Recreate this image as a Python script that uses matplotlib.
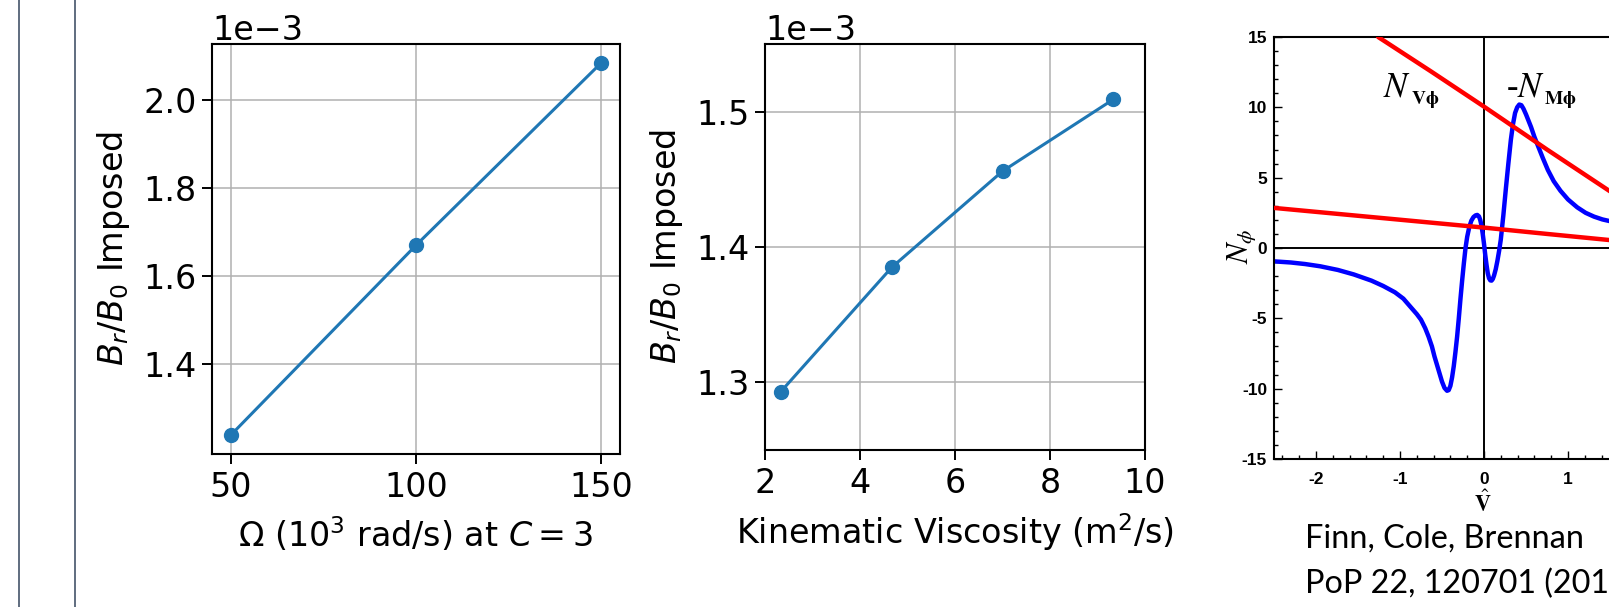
import matplotlib
matplotlib.use("Agg")
import matplotlib.pyplot as plt
from matplotlib.lines import Line2D
from matplotlib.ticker import MultipleLocator, FixedLocator, FuncFormatter

# left panel: imposed field vs rotation rate
omega = [50, 100, 150]
br_omega = [1.239e-3, 1.670e-3, 2.084e-3]

# middle panel: imposed field vs viscosity
visc = [2.33, 4.67, 7.0, 9.33]
br_visc = [1.293e-3, 1.385e-3, 1.456e-3, 1.509e-3]

nv_hi_x = [-1.26, -0.63, 0.0, 0.75, 1.52]
nv_hi_y = [15.0, 12.55, 10.05, 7.0, 3.95]
nv_lo_x = [-2.5, -1.25, 0.0, 0.75, 1.52]
nv_lo_y = [2.85, 2.15, 1.45, 1.0, 0.55]
nm_x = [-2.5, -2.3, -2.13, -1.95, -1.74, -1.55, -1.34, -1.2, -1.06, -0.96,
        -0.87, -0.8, -0.75, -0.7, -0.66, -0.62, -0.59, -0.56, -0.53, -0.5,
        -0.47, -0.44, -0.42, -0.4, -0.38, -0.36, -0.34, -0.32, -0.3, -0.28,
        -0.26, -0.24, -0.22, -0.2, -0.175, -0.15, -0.125, -0.1, -0.08, -0.06,
        -0.045, -0.03, -0.015, 0.0, 0.015, 0.03, 0.045, 0.06, 0.075, 0.09,
        0.105, 0.12, 0.14, 0.16, 0.18, 0.2, 0.23, 0.26, 0.29, 0.32,
        0.345, 0.37, 0.395, 0.42, 0.445, 0.47, 0.5, 0.53, 0.56, 0.6,
        0.64, 0.7, 0.76, 0.83, 0.91, 1.0, 1.11, 1.21, 1.31, 1.41, 1.52]
nm_y = [-0.95, -1.03, -1.14, -1.3, -1.56, -1.88, -2.32, -2.7, -3.15, -3.6,
        -4.22, -4.7, -5.1, -5.7, -6.3, -7.0, -7.7, -8.3, -8.9, -9.5,
        -9.95, -10.15, -10.1, -9.8, -9.2, -8.4, -7.4, -6.3, -5.0, -3.6,
        -2.3, -1.1, 0.0, 0.8, 1.5, 1.95, 2.2, 2.32, 2.35, 2.25,
        2.0, 1.6, 1.0, 0.3, -0.5, -1.2, -1.8, -2.15, -2.3, -2.32,
        -2.2, -1.95, -1.5, -0.9, -0.2, 0.6, 2.3, 4.2, 6.0, 7.7,
        8.8, 9.6, 10.0, 10.2, 10.15, 9.9, 9.5, 9.05, 8.6, 7.9,
        7.3, 6.4, 5.55, 4.75, 4.07, 3.45, 2.89, 2.5, 2.23, 2.03, 1.88]
vhat_ticks = [-2, -1, 0, 1]

plt.rcParams.update({
    "font.size": 24,
    "axes.linewidth": 1.5,
    "xtick.major.size": 7,
    "ytick.major.size": 7,
    "xtick.major.width": 1.4,
    "ytick.major.width": 1.4,
    "xtick.major.pad": 5,
    "ytick.major.pad": 4,
})

fig = plt.figure(figsize=(16.09, 6.07), dpi=100)
W, H = 1609.0, 607.0

def box(l, t, r, b):
    return [l / W, 1 - b / H, (r - l) / W, (b - t) / H]

blue = "#1f77b4"

# --- left panel
ax1 = fig.add_axes(box(212, 44, 620, 454))
ax1.plot(omega, br_omega, "-o", color=blue, lw=2.2, ms=10)
ax1.set_xticks([50, 100, 150])
ax1.set_yticks([1.4e-3, 1.6e-3, 1.8e-3, 2.0e-3])
ax1.ticklabel_format(axis="y", style="sci", scilimits=(0, 0))
ax1.grid(True, color="#b0b0b0", lw=1.1)
ax1.set_xlabel(r"$\Omega$ ($10^3$ rad/s) at $C = 3$", labelpad=8)
ax1.set_ylabel(r"$B_r/B_0$ Imposed", labelpad=8)

# --- middle panel
ax2 = fig.add_axes(box(765, 44, 1145, 450))
ax2.plot(visc, br_visc, "-o", color=blue, lw=2.2, ms=10)
ax2.set_xlim(2, 10)
ax2.set_ylim(1.25e-3, 1.55e-3)
ax2.set_xticks([2, 4, 6, 8, 10])
ax2.set_yticks([1.3e-3, 1.4e-3, 1.5e-3])
ax2.ticklabel_format(axis="y", style="sci", scilimits=(0, 0))
ax2.grid(True, color="#b0b0b0", lw=1.1)
ax2.set_xlabel(r"Kinematic Viscosity (m$^2$/s)", labelpad=8)
ax2.set_ylabel(r"$B_r/B_0$ Imposed", labelpad=8)

# --- right panel (reproduced paper figure, cut by the slide edge)
ax3 = fig.add_axes(box(1274, 37, 1694, 459))
ax3.axhline(0, color="k", lw=1.4, zorder=1)
ax3.axvline(0, color="k", lw=1.4, zorder=1)
ax3.plot(nv_hi_x, nv_hi_y, color="#ff0000", lw=3.2, solid_capstyle="round", zorder=3)
ax3.plot(nv_lo_x, nv_lo_y, color="#ff0000", lw=3.2, solid_capstyle="round", zorder=3)
ax3.plot(nm_x, nm_y, color="#0000ff", lw=3.2, solid_joinstyle="round", zorder=2)
ax3.set_xlim(-2.5, 2.5)
ax3.set_ylim(-15, 15)
for s in ax3.spines.values():
    s.set_linewidth(1.5)
ax3.xaxis.set_major_locator(FixedLocator(vhat_ticks))
ax3.xaxis.set_minor_locator(MultipleLocator(0.2))
ax3.yaxis.set_major_locator(MultipleLocator(5))
ax3.yaxis.set_minor_locator(MultipleLocator(1))
fmt = FuncFormatter(lambda v, p: "0" if abs(v) < 1e-9 else f"{v:g}")
ax3.xaxis.set_major_formatter(fmt)
ax3.yaxis.set_major_formatter(fmt)
ax3.tick_params(which="both", direction="in", top=False, right=False, width=1.0,
                labelsize=12.5, labelfontfamily="Liberation Sans")
ax3.tick_params(which="major", length=6)
ax3.tick_params(which="minor", length=3)
ax3.tick_params(axis="x", pad=9)
ax3.tick_params(axis="y", pad=5)
for lab in ax3.get_xticklabels() + ax3.get_yticklabels():
    lab.set_fontweight("bold")

ax3.text(-1.20, 10.8, r"$N$", fontsize=25, math_fontfamily="stix")
ax3.text(-0.87, 10.25, r"$\mathbf{V\phi}$", fontsize=14, math_fontfamily="stix")
ax3.text(0.26, 10.8, r"-$N$", fontsize=25, family="Liberation Serif", math_fontfamily="stix")
ax3.text(0.71, 10.25, r"$\mathbf{M\phi}$", fontsize=14, math_fontfamily="stix")
fig.text(1483 / W, 1 - 503 / H, r"$\hat{\mathbf{V}}$", fontsize=16, math_fontfamily="stix",
         ha="center", va="center")
fig.text(1242 / W, 1 - 246 / H, r"$N_\phi$", fontsize=22, math_fontfamily="stix",
         rotation=90, ha="center", va="center")

fig.text(1305 / W, 1 - 548 / H, "Finn, Cole, Brennan", family="Lato", fontsize=23.3,
         va="baseline")
fig.text(1305 / W, 1 - 593 / H, "PoP 22, 120701 (201", family="Lato", fontsize=23.3,
         va="baseline")

# slide divider lines on the left
for xp in (19, 75):
    fig.add_artist(Line2D([xp / W, xp / W], [0, 1], transform=fig.transFigure,
                          color="#44546a", lw=1.2))

fig.savefig("out.png", dpi=100)
